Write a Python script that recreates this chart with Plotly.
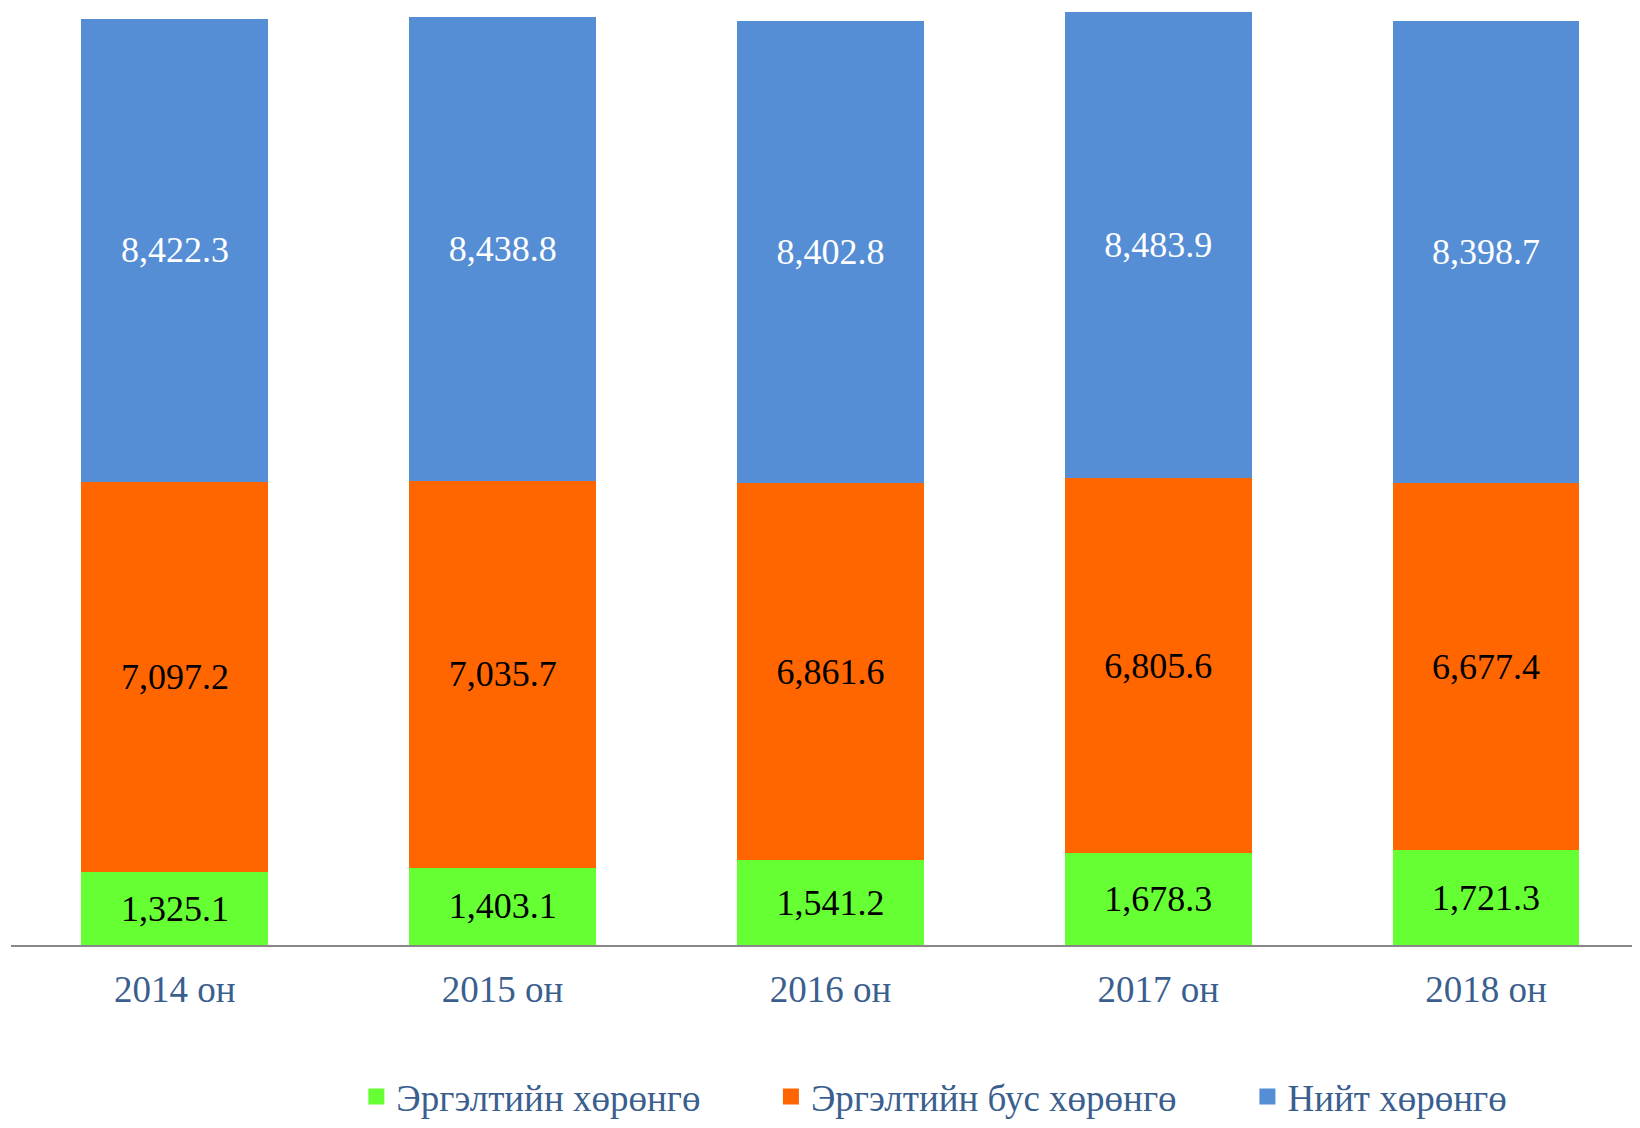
import plotly.graph_objects as go

years = ["2014 он", "2015 он", "2016 он", "2017 он", "2018 он"]
current_assets = [1325.1, 1403.1, 1541.2, 1678.3, 1721.3]
noncurrent_assets = [7097.2, 7035.7, 6861.6, 6805.6, 6677.4]
total_assets = [8422.3, 8438.8, 8402.8, 8483.9, 8398.7]

names = ["Эргэлтийн хөрөнгө", "Эргэлтийн бус хөрөнгө", "Нийт хөрөнгө"]
colors = ["#66FF33", "#FF6600", "#558ED5"]
text_colors = ["black", "black", "white"]

font_family = "Liberation Serif, Times New Roman, serif"
label_color = "#3A5F8F"

fig = go.Figure()
for name, vals, col, tcol in zip(names, [current_assets, noncurrent_assets, total_assets], colors, text_colors):
    fig.add_trace(go.Bar(
        x=years, y=vals, name=name, showlegend=False,
        marker=dict(color=col, line=dict(width=0)),
        text=[f"{v:,.1f}" for v in vals],
        textposition="inside",
        insidetextanchor="middle",
        textangle=0,
        textfont=dict(family=font_family, size=36, color=tcol),
    ))

# legend entries, one legend each so they can be spread out like the original
legend_x = [0.212, 0.4665, 0.759]
for i, (name, col) in enumerate(zip(names, colors)):
    lg = "legend" if i == 0 else f"legend{i+1}"
    fig.add_trace(go.Scatter(
        x=[None], y=[None], mode="markers", name=name, legend=lg,
        marker=dict(symbol="square", size=18, color=col),
    ))
    fig.update_layout({lg: dict(
        x=legend_x[i], xanchor="left", y=-0.1624, yanchor="middle",
        orientation="h", bgcolor="rgba(0,0,0,0)",
        font=dict(family=font_family, size=37, color=label_color),
    )})

fig.update_layout(
    barmode="stack",
    bargap=0.43,
    width=1632, height=1120,
    margin=dict(l=3, r=0, t=2, b=176),
    plot_bgcolor="white", paper_bgcolor="white",
    uniformtext=dict(minsize=36, mode="show"),
    xaxis=dict(
        range=[-0.5, 4.47],
        showline=True, linecolor="#888888", linewidth=2,
        ticks="", tickfont=dict(family=font_family, size=37, color=label_color),
        ticklabelstandoff=11,
    ),
    yaxis=dict(range=[0, 17000], visible=False, showgrid=False),
)

fig.write_html("out.html")
